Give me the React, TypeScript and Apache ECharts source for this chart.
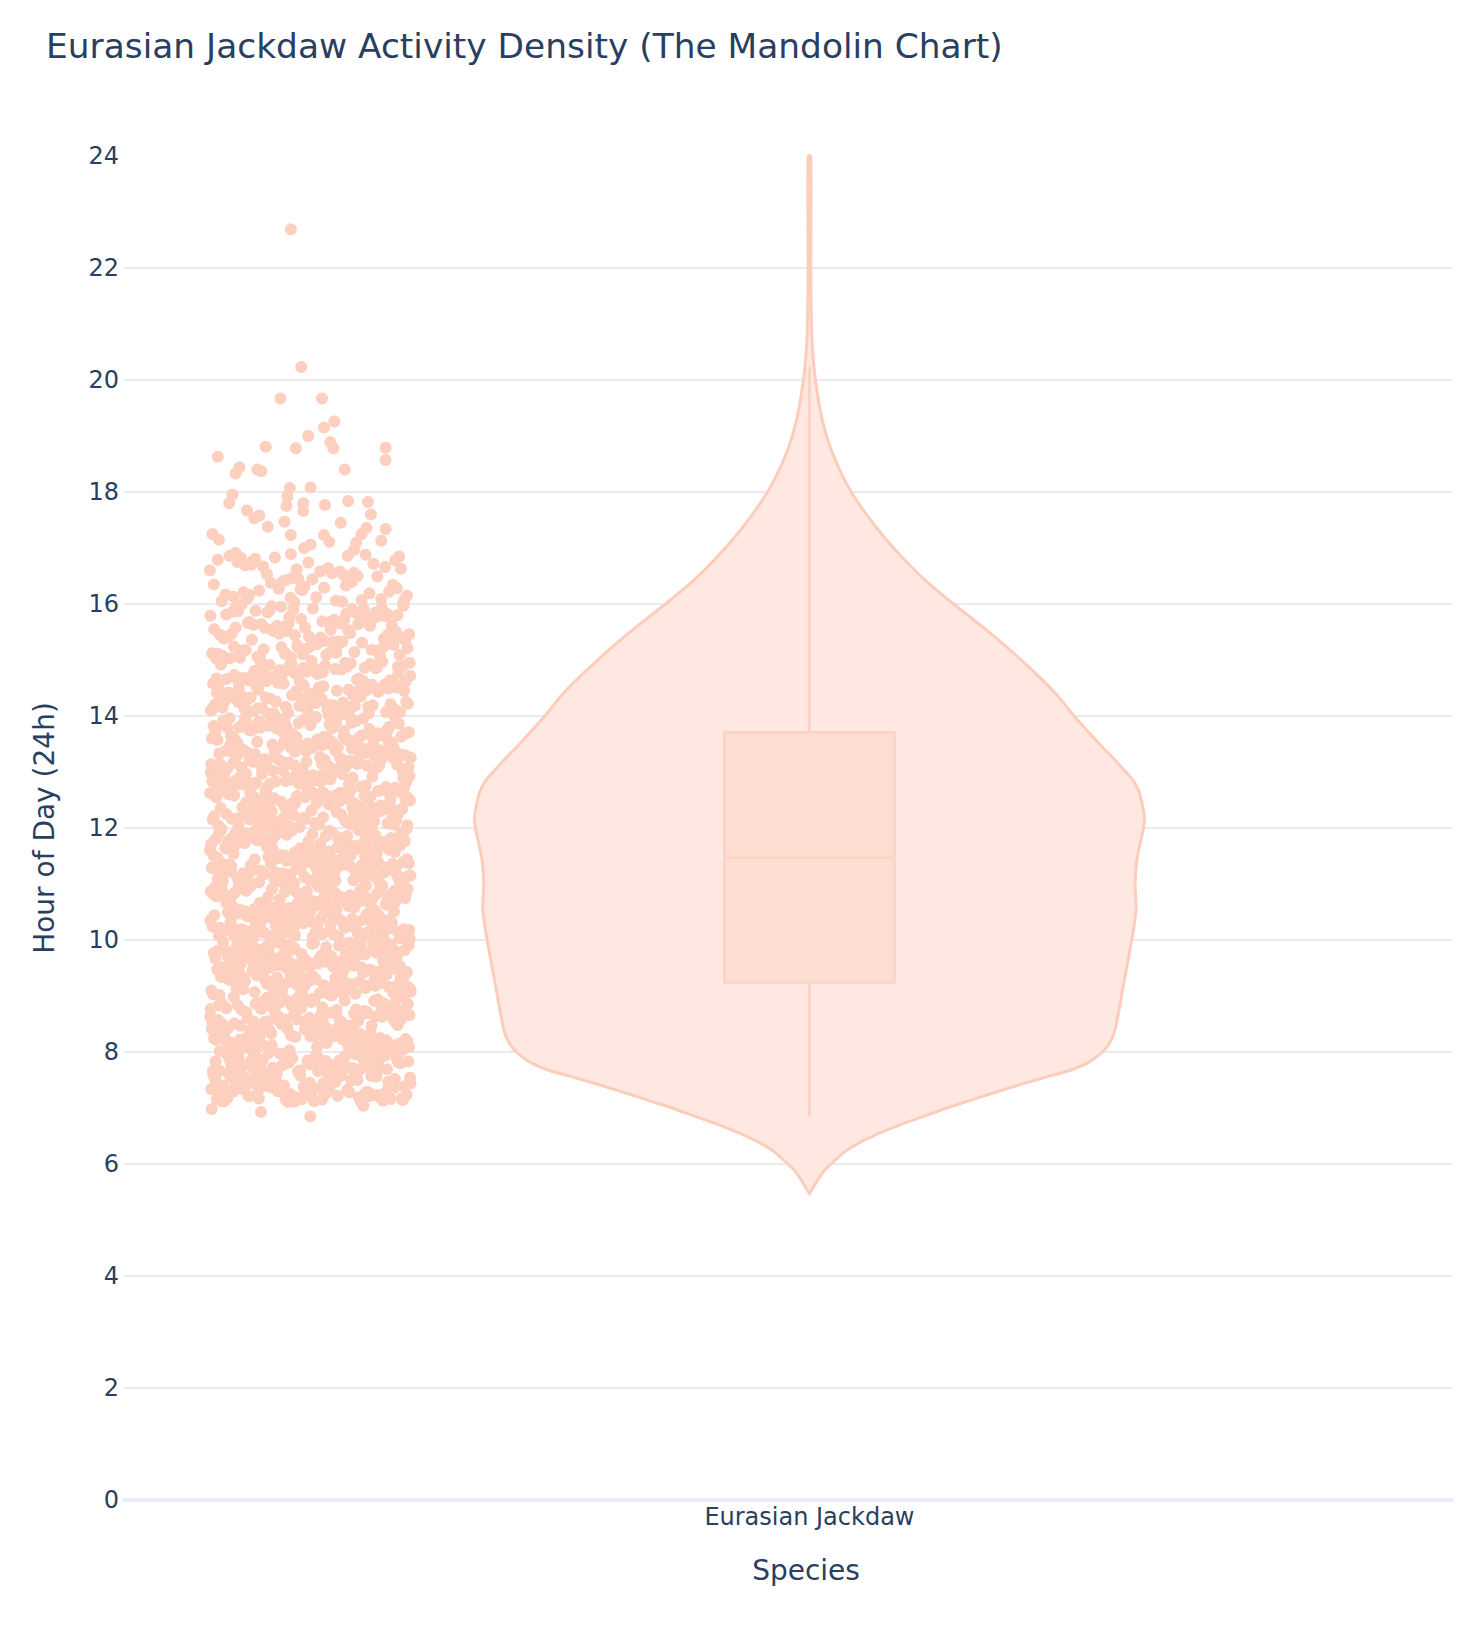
import React, { useEffect, useRef } from "react";
import * as echarts from "echarts";

// ---------- DATA ----------
const chartTitle = "Eurasian Jackdaw Activity Density (The Mandolin Chart)";
const speciesNames = ["Eurasian Jackdaw"];
const xAxisTitle = "Species";
const yAxisTitle = "Hour of Day (24h)";

// Observed activity hours (24h clock), grouped by period of the day
const dawnHours = [
  6.85, 6.93, 6.98, 7.04,
  7.12, 7.45, 7.83, 7.21, 7.66, 7.98, 7.34, 7.57, 7.15, 7.72, 7.40, 7.91, 7.26, 7.61, 7.18, 7.87, 7.49, 7.30, 7.77, 7.13,
  7.55, 7.94, 7.38, 7.69, 7.22, 7.81, 7.46, 7.16, 7.63, 7.89, 7.33, 7.52, 7.75, 7.19, 7.42, 7.97, 7.28, 7.58, 7.84, 7.14,
  7.67, 7.36, 7.92, 7.24, 7.50, 7.79, 7.17, 7.44, 7.70, 7.31, 7.86, 7.59, 7.20, 7.95, 7.39, 7.64, 7.27, 7.82, 7.48, 7.13,
  7.73, 7.35, 7.56, 7.99, 7.23, 7.62, 7.41, 7.88, 7.18, 7.53, 7.76, 7.29, 7.93, 7.47, 7.15, 7.68, 7.37, 7.85, 7.25, 7.60,
  7.43, 7.78, 7.11, 7.54, 7.90, 7.32, 7.65, 7.21, 7.80, 7.49, 7.16, 7.71, 7.39, 7.96, 7.26, 7.57, 7.83, 7.19, 7.45, 7.74,
  7.34, 7.88, 7.14, 7.61, 7.52, 7.29, 7.91, 7.42, 7.67, 7.22, 7.79, 7.36, 7.12, 7.58, 7.84, 7.47, 7.24, 7.70, 7.33, 7.97,
  7.55, 7.17, 7.63, 7.40, 7.86,
  7.27, 7.64, 7.11, 7.89, 7.43, 7.58, 7.20, 7.75, 7.36, 7.93, 7.14, 7.51, 7.82, 7.29, 7.67, 7.46, 7.18, 7.71, 7.38, 7.95,
  7.23, 7.60, 7.85, 7.32, 7.54, 7.12, 7.78, 7.41, 7.66, 7.25, 7.90, 7.48, 7.16, 7.73, 7.35, 7.59, 7.21, 7.87, 7.44, 7.69,
  7.13, 7.56, 7.81, 7.30, 7.62, 7.19, 7.76, 7.39, 7.97, 7.26, 7.53, 7.15, 7.84, 7.47, 7.70,
];
const morningHours = [
  8.03, 8.47, 8.81, 8.22, 8.65, 8.11, 8.93, 8.36, 8.58, 8.07, 8.74, 8.29, 8.98, 8.42, 8.15, 8.69, 8.53, 8.31, 8.86, 8.04,
  8.61, 8.38, 8.77, 8.19, 8.95, 8.44, 8.26, 8.72, 8.09, 8.55, 8.83, 8.33, 8.67, 8.12, 8.49, 8.91, 8.24, 8.59, 8.78, 8.06,
  8.40, 8.88, 8.17, 8.63, 8.35, 8.96, 8.51, 8.21, 8.75, 8.45, 8.02, 8.68, 8.30, 8.84, 8.13, 8.57, 8.92, 8.27, 8.71, 8.48,
  8.10, 8.80, 8.37, 8.62, 8.18, 8.99, 8.54, 8.23, 8.76, 8.41, 8.08, 8.66, 8.32, 8.89, 8.14, 8.52, 8.73, 8.28, 8.94, 8.46,
  8.05, 8.60, 8.39, 8.85, 8.20, 8.56, 8.79, 8.34, 8.64, 8.16, 8.97, 8.43, 8.25, 8.70, 8.50, 8.01, 8.87, 8.31, 8.58, 8.12,
  8.74, 8.44, 8.90, 8.22, 8.66, 8.36, 8.82, 8.08, 8.53, 8.27, 8.95, 8.61, 8.15, 8.47, 8.78, 8.33, 8.05, 8.69, 8.40, 8.86,
  8.19, 8.55, 8.92, 8.29, 8.63, 8.11, 8.49, 8.81, 8.24, 8.72, 8.38, 8.97, 8.57,
  8.14, 8.58, 8.33, 8.87, 8.05, 8.46, 8.71, 8.21, 8.94, 8.39, 8.62, 8.10, 8.79, 8.27, 8.53, 8.98, 8.17, 8.68, 8.42, 8.84,
  8.03, 8.56, 8.30, 8.75, 8.12, 8.49, 8.91, 8.24, 8.65, 8.37, 8.82, 8.07, 8.59, 8.44, 8.96, 8.19, 8.72, 8.34, 8.51, 8.88,
  8.09, 8.63, 8.28, 8.77, 8.41, 8.15, 8.93, 8.54, 8.22, 8.69, 8.36, 8.85, 8.02, 8.47, 8.80,
  9.06, 9.52, 9.18, 9.87, 9.33, 9.71, 9.44, 9.02, 9.95, 9.28, 9.63, 9.15, 9.79, 9.40, 9.57, 9.09, 9.91, 9.24, 9.68, 9.36,
  9.83, 9.12, 9.49, 9.75, 9.21, 9.98, 9.46, 9.60, 9.03, 9.85, 9.31, 9.54, 9.17, 9.73, 9.42, 9.89, 9.26, 9.65, 9.08, 9.51,
  9.93, 9.38, 9.77, 9.14, 9.59, 9.22, 9.81, 9.47, 9.05, 9.70, 9.34, 9.96, 9.19, 9.62, 9.43, 9.88, 9.11, 9.55, 9.29, 9.74,
  9.01, 9.66, 9.39, 9.84, 9.23, 9.50, 9.92, 9.16, 9.61, 9.35, 9.78, 9.07, 9.45, 9.86, 9.27, 9.69, 9.13, 9.56, 9.99, 9.32,
  9.72, 9.20, 9.48, 9.82, 9.04, 9.64, 9.37, 9.90, 9.25, 9.53, 9.76, 9.10, 9.41, 9.94, 9.30, 9.67, 9.18, 9.58, 9.85, 9.02,
  9.46, 9.73, 9.26, 9.97, 9.35, 9.61, 9.14, 9.80, 9.42, 9.06, 9.69, 9.29, 9.89, 9.52, 9.21, 9.76, 9.38, 9.09, 9.63, 9.44,
  9.92, 9.17, 9.57, 9.33, 9.81, 9.24, 9.49, 9.70, 9.12, 9.95, 9.40, 9.65, 9.28, 9.86, 9.55,
  9.07, 9.43, 9.81, 9.26, 9.64, 9.12, 9.92, 9.37, 9.55, 9.03, 9.74, 9.30, 9.88, 9.47, 9.19, 9.68, 9.51, 9.34, 9.85, 9.08,
  9.60, 9.41, 9.77, 9.15, 9.96, 9.45, 9.23, 9.71, 9.10, 9.57, 9.83, 9.32, 9.66, 9.13, 9.48, 9.90, 9.25, 9.58, 9.79, 9.05,
  9.39, 9.87, 9.18, 9.62, 9.36, 9.94, 9.53, 9.21, 9.75, 9.44, 9.01, 9.67, 9.31, 9.84, 9.16,
];
const middayHours = [
  10.04, 10.58, 10.21, 10.87, 10.36, 10.69, 10.13, 10.94, 10.45, 10.28, 10.77, 10.08, 10.62, 10.39, 10.91, 10.17, 10.53,
  10.82, 10.25, 10.66, 10.01, 10.48, 10.73, 10.32, 10.97, 10.11, 10.56, 10.84, 10.22, 10.64, 10.43, 10.06, 10.79, 10.35,
  10.92, 10.19, 10.51, 10.71, 10.27, 10.88, 10.14, 10.60, 10.41, 10.96, 10.09, 10.75, 10.30, 10.55, 10.83, 10.18, 10.67,
  10.46, 10.02, 10.90, 10.33, 10.59, 10.24, 10.78, 10.12, 10.50, 10.86, 10.38, 10.63, 10.07, 10.95, 10.29, 10.72, 10.44,
  10.16, 10.81, 10.54, 10.23, 10.68, 10.40, 10.98, 10.10, 10.61, 10.34, 10.85, 10.20, 10.47, 10.76, 10.05, 10.57, 10.93,
  10.31, 10.70, 10.15, 10.52, 10.89, 10.26, 10.65, 10.42, 10.03, 10.80, 10.37, 10.99, 10.19, 10.58, 10.74, 10.28, 10.91,
  10.11, 10.49, 10.66, 10.35, 10.84, 10.06, 10.62, 10.44, 10.97, 10.23, 10.55, 10.78, 10.14, 10.69, 10.39, 10.88, 10.27,
  10.51, 10.03, 10.73, 10.46, 10.95, 10.32, 10.60, 10.17, 10.82, 10.41, 10.09, 10.64, 10.53, 10.26, 10.90, 10.36, 10.77,
  10.12, 10.48, 10.86, 10.22,
  10.08, 10.44, 10.83, 10.25, 10.63, 10.12, 10.91, 10.38, 10.56, 10.04, 10.75, 10.31, 10.87, 10.46, 10.18, 10.69, 10.52,
  10.35, 10.84, 10.07, 10.61, 10.42, 10.78, 10.14, 10.95, 10.47, 10.22, 10.72, 10.11, 10.58, 10.81, 10.33, 10.67, 10.15,
  10.49, 10.89, 10.26, 10.57, 10.79, 10.06, 10.40, 10.86, 10.19, 10.63, 10.37, 10.93, 10.54, 10.21, 10.76, 10.45, 10.02,
  10.68, 10.30, 10.85, 10.16,
  11.07, 11.53, 11.26, 11.84, 11.39, 11.68, 11.12, 11.95, 11.44, 11.21, 11.76, 11.03, 11.60, 11.33, 11.89, 11.17, 11.50,
  11.81, 11.28, 11.65, 11.09, 11.47, 11.72, 11.36, 11.98, 11.14, 11.57, 11.86, 11.23, 11.63, 11.41, 11.05, 11.79, 11.31,
  11.92, 11.19, 11.54, 11.70, 11.27, 11.88, 11.11, 11.61, 11.43, 11.97, 11.08, 11.74, 11.34, 11.56, 11.83, 11.16, 11.66,
  11.48, 11.01, 11.91, 11.30, 11.59, 11.25, 11.77, 11.13, 11.52, 11.85, 11.37, 11.64, 11.06, 11.94, 11.29, 11.71, 11.45,
  11.18, 11.80, 11.55, 11.22, 11.67, 11.40, 11.99, 11.10, 11.62, 11.35, 11.87, 11.20, 11.46, 11.75, 11.04, 11.58, 11.93,
  11.32, 11.69, 11.15, 11.51, 11.90, 11.24, 11.66, 11.42, 11.02, 11.82, 11.38, 11.96, 11.19, 11.57, 11.73, 11.27, 11.89,
  11.12, 11.49, 11.64, 11.34, 11.85, 11.07, 11.61, 11.44, 11.98, 11.23, 11.53, 11.78, 11.15, 11.70, 11.38, 11.87, 11.28,
  11.50, 11.04, 11.72, 11.47, 11.94, 11.31, 11.60, 11.18, 11.81, 11.41, 11.09, 11.65, 11.55, 11.25, 11.91, 11.35, 11.76,
  11.13, 11.48, 11.84, 11.21,
  11.06, 11.42, 11.82, 11.27, 11.65, 11.11, 11.93, 11.36, 11.57, 11.02, 11.73, 11.32, 11.86, 11.45, 11.17, 11.69, 11.53,
  11.34, 11.88, 11.09, 11.62, 11.40, 11.79, 11.14, 11.96, 11.46, 11.24, 11.71, 11.12, 11.59, 11.83, 11.30, 11.67, 11.16,
  11.48, 11.91, 11.26, 11.56, 11.78, 11.05, 11.39, 11.85, 11.20, 11.63, 11.37, 11.95, 11.52, 11.22, 11.75, 11.43, 11.03,
  11.68, 11.29, 11.84, 11.17,
];
const afternoonHours = [
  12.05, 12.51, 12.24, 12.86, 12.37, 12.70, 12.13, 12.93, 12.46, 12.29, 12.78, 12.02, 12.63, 12.34, 12.90, 12.18, 12.55,
  12.82, 12.26, 12.67, 12.08, 12.49, 12.74, 12.31, 12.97, 12.15, 12.58, 12.85, 12.21, 12.61, 12.43, 12.06, 12.79, 12.36,
  12.92, 12.19, 12.53, 12.72, 12.28, 12.88, 12.11, 12.60, 12.40, 12.96, 12.09, 12.76, 12.33, 12.57, 12.84, 12.17, 12.65,
  12.47, 12.03, 12.91, 12.32, 12.59, 12.23, 12.77, 12.14, 12.52, 12.87, 12.38, 12.64, 12.07, 12.95, 12.27, 12.71, 12.44,
  12.16, 12.81, 12.54, 12.22, 12.68, 12.41, 12.99, 12.10, 12.62, 12.35, 12.89, 12.20, 12.48, 12.75, 12.04, 12.56, 12.94,
  12.30, 12.69, 12.12, 12.50, 12.83, 12.25, 12.66, 12.42, 12.01, 12.80, 12.39, 12.98, 12.18, 12.58, 12.73, 12.28, 12.90,
  12.13, 12.45, 12.63, 12.33, 12.86, 12.06, 12.61, 12.44, 12.97, 12.24, 12.54, 12.79, 12.15, 12.71, 12.37, 12.88, 12.27,
  12.51, 12.03, 12.74, 12.46, 12.93, 12.31, 12.60, 12.19, 12.83, 12.40, 12.09, 12.66, 12.55, 12.25,
  12.07, 12.43, 12.81, 12.28, 12.64, 12.12, 12.92, 12.35, 12.58, 12.03, 12.74, 12.30, 12.87, 12.47, 12.16, 12.68, 12.52,
  12.36, 12.85, 12.08, 12.61, 12.41, 12.78, 12.15, 12.96, 12.45, 12.23, 12.72, 12.11, 12.57, 12.82, 12.32, 12.66, 12.14,
  12.49, 12.90, 12.27, 12.55, 12.79, 12.05, 12.38, 12.86, 12.19, 12.62, 12.37, 12.94, 12.53, 12.21, 12.76, 12.44, 12.02,
  12.69, 12.29, 12.83, 12.18,
  13.04, 13.56, 13.22, 13.85, 13.38, 13.69, 13.11, 13.94, 13.47, 13.27, 13.78, 13.03, 13.61, 13.33, 13.89, 13.16, 13.52,
  13.81, 13.25, 13.66, 13.08, 13.45, 13.73, 13.36, 13.97, 13.13, 13.58, 13.87, 13.21, 13.63, 13.42, 13.06, 13.76, 13.30,
  13.91, 13.18, 13.54, 13.71, 13.28, 13.84, 13.10, 13.60, 13.41, 13.96, 13.07, 13.75, 13.34, 13.57, 13.83, 13.15, 13.67,
  13.48, 13.02, 13.92, 13.31, 13.59, 13.24, 13.79, 13.12, 13.50, 13.88, 13.37, 13.64, 13.05, 13.95, 13.29, 13.72, 13.44,
  13.17, 13.80, 13.53, 13.23, 13.68, 13.40, 13.99, 13.09, 13.62, 13.35, 13.86, 13.20, 13.46, 13.74, 13.01, 13.55, 13.93,
  13.32, 13.70, 13.14, 13.51, 13.90, 13.26, 13.65, 13.43, 13.05, 13.82, 13.39, 13.98, 13.19, 13.57, 13.77, 13.27, 13.88,
  13.11, 13.49, 13.63, 13.34, 13.85, 13.08, 13.60, 13.44, 13.96, 13.22, 13.54, 13.72, 13.16, 13.69, 13.38, 13.81, 13.29,
  13.50,
  13.06, 13.44, 13.82, 13.26, 13.63, 13.12, 13.91, 13.35, 13.57, 13.04, 13.75, 13.31, 13.88, 13.46, 13.18, 13.68, 13.52,
  13.37, 13.86, 13.09, 13.61, 13.42, 13.79, 13.14, 13.95, 13.47, 13.23, 13.71, 13.11, 13.58, 13.83, 13.33, 13.66, 13.15,
  13.49, 13.90, 13.27, 13.55, 13.78, 13.06, 13.39, 13.85, 13.20, 13.64, 13.36, 13.93, 13.54, 13.22, 13.74, 13.43,
];
const lateHours = [
  14.06, 14.52, 14.21, 14.83, 14.37, 14.68, 14.12, 14.95, 14.44, 14.28, 14.76, 14.03, 14.61, 14.33, 14.89, 14.17, 14.55,
  14.81, 14.25, 14.65, 14.09, 14.47, 14.72, 14.35, 14.98, 14.14, 14.58, 14.86, 14.23, 14.62, 14.41, 14.05, 14.79, 14.31,
  14.92, 14.19, 14.53, 14.70, 14.27, 14.87, 14.11, 14.59, 14.42, 14.96, 14.08, 14.74, 14.34, 14.56, 14.84, 14.16, 14.66,
  14.49, 14.02, 14.91, 14.30, 14.60, 14.24, 14.78, 14.13, 14.51, 14.88, 14.38, 14.64, 14.07, 14.94, 14.29, 14.71, 14.45,
  14.18, 14.80, 14.54, 14.22, 14.67, 14.40, 14.99, 14.10, 14.63, 14.36, 14.85, 14.20, 14.46, 14.75, 14.04, 14.57, 14.93,
  14.32, 14.69, 14.15, 14.50, 14.90, 14.26, 14.66, 14.43, 14.01, 14.82, 14.39, 14.97, 14.19, 14.58, 14.73,
  14.07, 14.45, 14.83, 14.25, 14.64, 14.11, 14.92, 14.36, 14.57, 14.03, 14.76, 14.31, 14.88, 14.47, 14.18, 14.69, 14.53,
  14.38, 14.86, 14.09, 14.62, 14.42, 14.79, 14.14, 14.95, 14.48, 14.23, 14.72, 14.12, 14.59, 14.84, 14.33, 14.67, 14.16,
  14.51, 14.91, 14.28, 14.56, 14.78, 14.05, 14.40, 14.85, 14.21, 14.63, 14.37,
  15.07, 15.54, 15.23, 15.86, 15.38, 15.69, 15.12, 15.94, 15.45, 15.29, 15.77, 15.04, 15.62, 15.33, 15.90, 15.16, 15.51,
  15.83, 15.26, 15.66, 15.09, 15.48, 15.73, 15.36, 15.97, 15.14, 15.58, 15.88, 15.21, 15.64, 15.42, 15.06, 15.79, 15.31,
  15.92, 15.19, 15.55, 15.71, 15.28, 15.85, 15.11, 15.61, 15.40, 15.96, 15.08, 15.75, 15.34, 15.57, 15.81, 15.17, 15.67,
  15.47, 15.03, 15.93, 15.32, 15.59, 15.24, 15.78, 15.13, 15.52, 15.87, 15.37, 15.65, 15.05, 15.99, 15.27, 15.72, 15.44,
  15.18, 15.80, 15.53, 15.22, 15.68, 15.41, 15.91, 15.10, 15.63, 15.35, 15.84, 15.20,
  15.06, 15.46, 15.83, 15.25, 15.64, 15.12, 15.91, 15.35, 15.57, 15.03, 15.76, 15.31, 15.88, 15.45, 15.18, 15.69, 15.52,
  15.38, 15.85, 15.09, 15.61, 15.42, 15.79, 15.14, 15.95, 15.47, 15.23, 15.72, 15.11, 15.58, 15.82, 15.33, 15.66, 15.16,
  15.49,
  16.04, 16.47, 16.21, 16.78, 16.33, 16.62, 16.10, 16.85, 16.41, 16.26, 16.70, 16.02, 16.56, 16.31, 16.81, 16.15, 16.50,
  16.74, 16.24, 16.60, 16.07, 16.44, 16.67, 16.35, 16.88, 16.12, 16.53, 16.79, 16.19, 16.58, 16.38, 16.05, 16.72, 16.29,
  16.83, 16.17, 16.49, 16.64, 16.27, 16.86, 16.09, 16.55, 16.40, 16.13, 16.66,
  16.06, 16.43, 16.75, 16.22, 16.58, 16.11, 16.82, 16.34, 16.52, 16.03, 16.69, 16.28, 16.86, 16.45, 16.16, 16.63, 16.39,
  16.25, 16.77, 16.08,
];
// Sparse evening observations: [offset from species position (violin half-widths), hour]
const eveningPoints = [
  [-1.548, 22.69], [-1.517, 20.23], [-1.579, 19.67], [-1.455, 19.67], [-1.418, 19.26], [-1.449, 19.15],
  [-1.496, 19.0], [-1.43, 18.89], [-1.421, 18.78], [-1.265, 18.79], [-1.265, 18.57], [-1.766, 18.63],
  [-1.623, 18.81], [-1.533, 18.78], [-1.701, 18.44], [-1.648, 18.4], [-1.636, 18.37], [-1.713, 18.33],
  [-1.387, 18.4], [-1.551, 18.07], [-1.489, 18.08], [-1.558, 17.92], [-1.722, 17.95], [-1.732, 17.8],
  [-1.679, 17.67], [-1.377, 17.84], [-1.318, 17.82], [-1.309, 17.6], [-1.511, 17.8], [-1.446, 17.77],
  [-1.511, 17.66], [-1.561, 17.75], [-1.642, 17.58], [-1.657, 17.53], [-1.567, 17.47], [-1.399, 17.45],
  [-1.617, 17.38], [-1.265, 17.34], [-1.782, 17.25], [-1.763, 17.15], [-1.322, 17.36], [-1.337, 17.25],
  [-1.548, 17.23], [-1.449, 17.23], [-1.433, 17.11], [-1.489, 17.06], [-1.353, 17.1], [-1.278, 17.13],
  [-1.508, 17.0], [-1.713, 16.91], [-1.359, 16.97], [-1.548, 16.89],
];

// Kernel density outline of the violin (hour -> normalised half width)
const violinHours = [
  5.47, 5.55, 5.65, 5.77, 5.9, 6.0, 6.12, 6.24, 6.4, 6.54, 6.7, 6.84, 7.0, 7.14, 7.3, 7.44, 7.56, 7.67, 7.76, 7.85,
  8.0, 8.15, 8.33, 8.62, 9.22, 10.0, 10.53, 11.0, 11.42, 11.8, 12.0, 12.2, 12.46, 12.66, 12.86, 13.06, 13.26, 13.42,
  13.7, 14.0, 14.4, 14.8, 15.2, 15.6, 16.0, 16.4, 16.8, 17.2, 17.6, 18.0, 18.4, 18.8, 19.2, 19.6, 20.0, 20.4, 20.8,
  21.3, 22.0, 24.0,
];
const violinDensity = [
  0, 0.008, 0.018, 0.031, 0.047, 0.064, 0.086, 0.11, 0.155, 0.204, 0.27, 0.336, 0.41, 0.483, 0.565, 0.642, 0.71, 0.776,
  0.815, 0.842, 0.875, 0.895, 0.909, 0.92, 0.938, 0.962, 0.975, 0.972, 0.977, 0.99, 0.997, 1.0, 0.992, 0.983, 0.965,
  0.935, 0.905, 0.878, 0.835, 0.79, 0.735, 0.668, 0.595, 0.515, 0.43, 0.35, 0.282, 0.222, 0.17, 0.125, 0.09, 0.062,
  0.042, 0.028, 0.018, 0.011, 0.007, 0.005, 0.004, 0.004,
];
// Box summary: lower whisker, Q1, median, Q3, upper whisker
const boxSummary = [6.85, 9.24, 11.47, 13.71, 20.23];

// ---------- STYLE ----------
const FONT = 'Verdana, "DejaVu Sans", sans-serif';
const TEXT_COLOR = "#2a3f5f";
const POINT_COLOR = "#FDCFBE";
const VIOLIN_LINE = "#FDCDBC";
const VIOLIN_FILL = "#FEE8E1";
const BOX_FILL = "#FCDDD2";
const BOX_LINE = "#FCD2C3";
const X_MIN = -2.046;
const X_MAX = 1.918;
const POINT_POS = -1.49;
const JITTER_HALF = 0.3;
const BOX_HALF = 0.254;

function buildPointData() {
  const hours = [...dawnHours, ...morningHours, ...middayHours, ...afternoonHours, ...lateHours];
  const pts = hours.map((h, i) => {
    const u = (0.5 + i * 0.7548776662) % 1;
    return [POINT_POS + (u - 0.5) * 2 * JITTER_HALF, h];
  });
  return pts.concat(eveningPoints.map((p) => [p[0], p[1]]));
}

function renderViolin(params: any, api: any) {
  const right = violinHours.map((h, i) => api.coord([violinDensity[i], h]));
  const left = violinHours.map((h, i) => api.coord([-violinDensity[i], h])).reverse();
  const outline = right.concat(left);
  const [wLo, q1, med, q3, wHi] = boxSummary;
  const c0 = api.coord([0, wLo]);
  const cQ1 = api.coord([0, q1]);
  const cQ3 = api.coord([0, q3]);
  const cHi = api.coord([0, wHi]);
  const bl = api.coord([-BOX_HALF, q3]);
  const br = api.coord([BOX_HALF, q1]);
  const ml = api.coord([-BOX_HALF, med]);
  const mr = api.coord([BOX_HALF, med]);
  return {
    type: "group",
    children: [
      {
        type: "polygon",
        shape: { points: outline, smooth: 0.25 },
        style: { fill: VIOLIN_FILL, stroke: VIOLIN_LINE, lineWidth: 3 },
      },
      {
        type: "line",
        shape: { x1: c0[0], y1: c0[1], x2: cQ1[0], y2: cQ1[1] },
        style: { stroke: BOX_LINE, lineWidth: 3 },
      },
      {
        type: "line",
        shape: { x1: cQ3[0], y1: cQ3[1], x2: cHi[0], y2: cHi[1] },
        style: { stroke: BOX_LINE, lineWidth: 3 },
      },
      {
        type: "rect",
        shape: { x: bl[0], y: bl[1], width: br[0] - bl[0], height: br[1] - bl[1] },
        style: { fill: BOX_FILL, stroke: BOX_LINE, lineWidth: 2.5 },
      },
      {
        type: "line",
        shape: { x1: ml[0], y1: ml[1], x2: mr[0], y2: mr[1] },
        style: { stroke: BOX_LINE, lineWidth: 2.5 },
      },
    ],
  };
}

export default function App() {
  const ref = useRef<HTMLDivElement>(null);
  useEffect(() => {
    if (!ref.current) return;
    const chart = echarts.init(ref.current, null, { renderer: "svg" });
    chart.setOption({
      animation: false,
      backgroundColor: "#ffffff",
      textStyle: { fontFamily: FONT },
      title: {
        text: chartTitle,
        left: 46,
        top: 24,
        padding: 0,
        textStyle: { fontFamily: FONT, fontSize: 34.4, fontWeight: "normal", color: TEXT_COLOR, lineHeight: 44 },
      },
      grid: { left: 124, right: 20, top: 156, bottom: 136, containLabel: false, outerBoundsMode: "none" },
      xAxis: {
        type: "value",
        min: X_MIN,
        max: X_MAX,
        name: xAxisTitle,
        nameLocation: "middle",
        nameGap: 54,
        nameTextStyle: {
          fontFamily: FONT,
          fontSize: 28,
          color: TEXT_COLOR,
          lineHeight: 32,
          padding: [0, 0, 0, 36],
        },
        axisLine: { show: true, onZero: false, lineStyle: { color: "#E8EEF8", width: 4 } },
        axisTick: { show: false },
        splitLine: { show: false },
        axisLabel: {
          customValues: [0],
          formatter: (v: number) => (Math.abs(v) < 1e-9 ? speciesNames[0] : ""),
          margin: 3,
          fontFamily: FONT,
          fontSize: 24,
          lineHeight: 28,
          color: TEXT_COLOR,
        },
      },
      yAxis: {
        type: "value",
        min: 0,
        max: 24,
        interval: 2,
        name: yAxisTitle,
        nameLocation: "middle",
        nameGap: 64,
        nameTextStyle: { fontFamily: FONT, fontSize: 28, color: TEXT_COLOR, lineHeight: 32 },
        axisLine: { show: false },
        axisTick: { show: false },
        splitLine: {
          show: true,
          showMinLine: false,
          showMaxLine: false,
          lineStyle: { color: "#EBEBEE", width: 2 },
        },
        axisLabel: { fontFamily: FONT, fontSize: 24, color: TEXT_COLOR, margin: 5 },
      },
      series: [
        {
          type: "custom",
          name: speciesNames[0],
          coordinateSystem: "cartesian2d",
          silent: true,
          data: [[0, boxSummary[2]]],
          renderItem: renderViolin,
          z: 2,
        },
        {
          type: "scatter",
          name: speciesNames[0],
          silent: true,
          symbol: "circle",
          symbolSize: 12,
          itemStyle: { color: POINT_COLOR, opacity: 1 },
          data: buildPointData(),
          z: 3,
        },
      ],
    });
    return () => chart.dispose();
  }, []);
  return (
    <div
      ref={ref}
      style={{ position: "fixed", left: 0, top: 0, width: 1472, height: 1636, background: "#ffffff" }}
    />
  );
}
